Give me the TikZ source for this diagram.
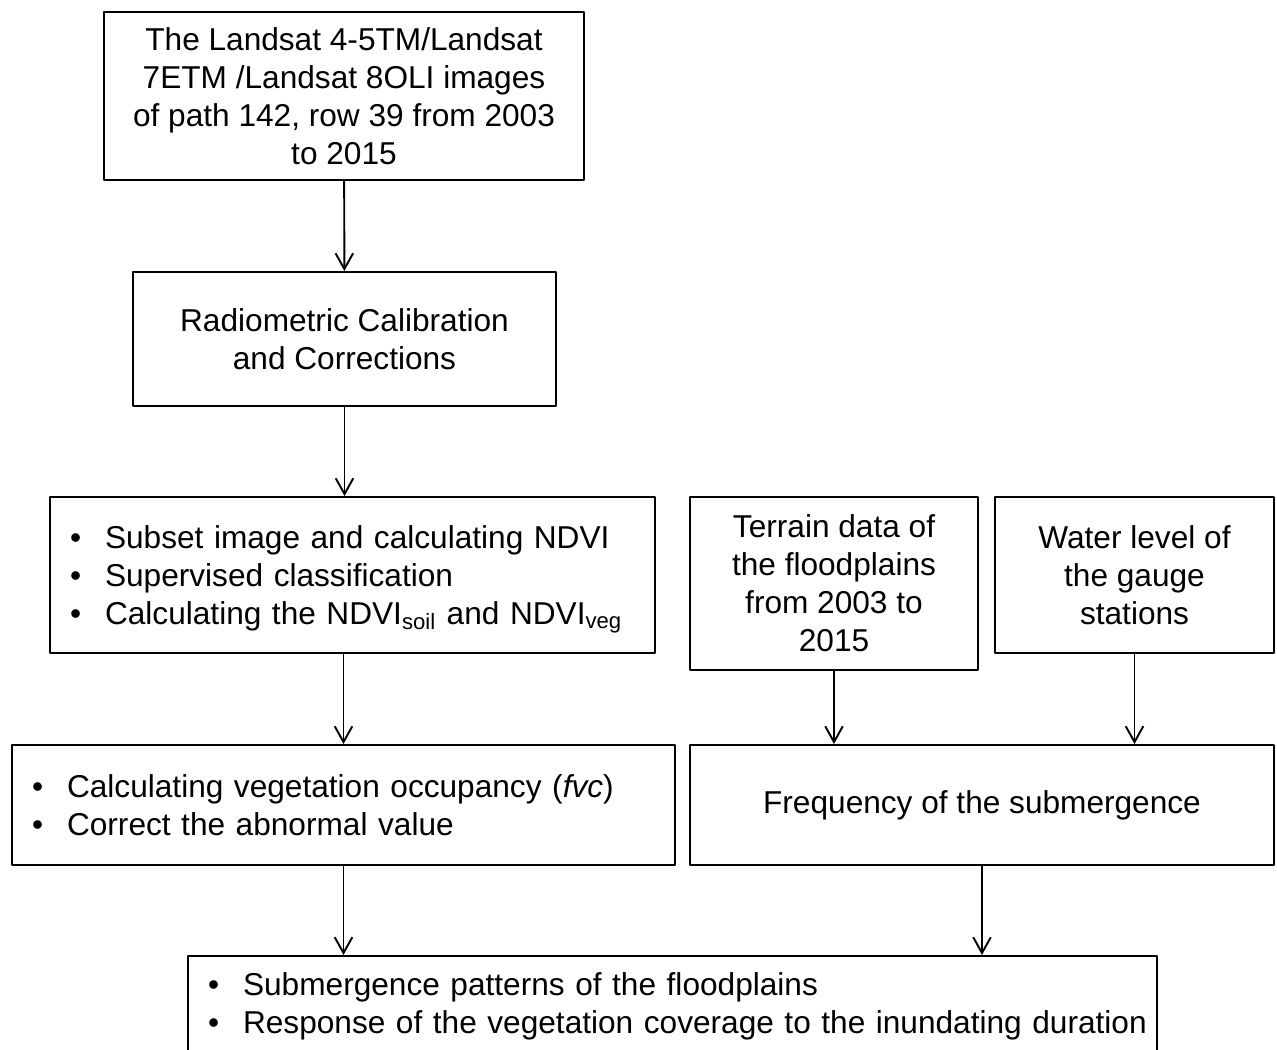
\documentclass[tikz,border=0pt]{standalone}
\usepackage{fontspec}
\setmainfont{Liberation Sans}
\usetikzlibrary{arrows.meta}
\usetikzlibrary{positioning}

\newcommand{\bitem}[1]{\mbox{\makebox[0.7cm][l]{\textbullet}#1}}

\tikzset{
  stepbox/.style={draw=black,line width=1.1pt,align=center,inner sep=0pt,
    font=\fontsize{18}{21.6}\selectfont},
  listbox/.style={draw=black,line width=1.1pt,align=left,inner ysep=0pt,inner xsep=0.4cm,
    font=\fontsize{18}{21.6}\selectfont},
  flow/.style={line width=1.1pt,-{Straight Barb[length=9pt,width=10pt,line width=1.1pt]}}
}

\begin{document}
\begin{tikzpicture}[line cap=round,line join=round,x=0.02cm,y=-0.02cm]
\clip(0,0) rectangle (1277,1050);
\fill [white] (0,0) rectangle (1277,1050);
% left column
\node[stepbox,minimum width=9.6cm,minimum height=3.36cm] (landsat) at (344,96)
  {The Landsat 4-5TM/Landsat\\ 7ETM /Landsat 8OLI images\\ of path 142, row 39 from 2003\\ to 2015};
\node[stepbox,minimum width=8.46cm,minimum height=2.68cm] (calib) at (344.5,339)
  {Radiometric Calibration\\ and Corrections};
\node[listbox,text width=11.3cm,minimum height=3.12cm] (ndvi) at (352.5,575)
  {\rule{0pt}{18pt}\bitem{Subset image and calculating NDVI}\\
   \bitem{Supervised classification}\\
   \bitem{Calculating the NDVI\textsubscript{soil} and NDVI\textsubscript{veg}}};
\node[listbox,text width=12.46cm,minimum height=2.4cm] (fvc) at (343.5,805)
  {\bitem{Calculating vegetation occupancy (\textit{fvc})}\\
   \bitem{Correct the abnormal value}};
% right column
\node[stepbox,minimum width=5.76cm,minimum height=3.46cm] (terrain) at (834,583.5)
  {Terrain data of\\ the floodplains\\ from 2003 to\\ 2015};
\node[stepbox,minimum width=5.58cm,minimum height=3.12cm] (gauge) at (1134.5,575)
  {Water level of\\ the gauge\\ stations};
\node[stepbox,minimum width=11.68cm,minimum height=2.4cm] (freq) at (982,805)
  {Frequency of the submergence};
% result
\node[listbox,text width=18.58cm,minimum height=2.0cm,anchor=north] (result) at (672.5,955)
  {\bitem{Submergence patterns of the floodplains}\\
   \bitem{Response of the vegetation coverage to the inundating duration}};
% connectors
\draw[flow] (landsat) -- (calib);
\draw[flow] (calib.south) -- (calib.south |- ndvi.north);
\draw[flow] (fvc.north |- ndvi.south) -- (fvc.north);
\draw[flow] (terrain.south) -- (terrain.south |- freq.north);
\draw[flow] (gauge.south) -- (gauge.south |- freq.north);
\draw[flow] (fvc.south) -- (fvc.south |- result.north);
\draw[flow] (freq.south) -- (freq.south |- result.north);
\end{tikzpicture}
\end{document}
